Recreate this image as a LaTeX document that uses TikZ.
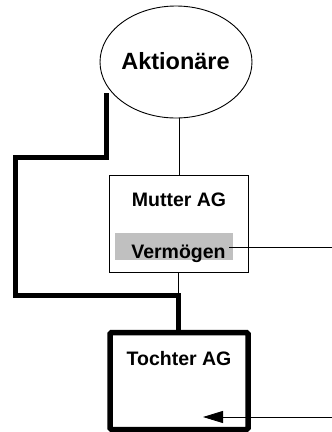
\documentclass[tikz,border=0pt]{standalone}
\usepackage{fontspec}
\setmainfont{Liberation Sans}
\usetikzlibrary{arrows.meta,shapes.geometric}
\definecolor{boxgray}{RGB}{192,192,192}
\begin{document}
\begin{tikzpicture}[x=1pt,y=-1pt,
  thinline/.style={draw=black,line width=0.9pt},
  thickline/.style={draw=black,line width=5.5pt,line join=miter},
  bigtxt/.style={font=\fontsize{23.5}{28}\selectfont\bfseries,inner sep=0pt,anchor=base},
  midtxt/.style={font=\fontsize{19.5}{24}\selectfont\bfseries,inner sep=0pt,anchor=base}]
\useasboundingbox (0,0) rectangle (332,432);
% shapes
\node[ellipse,thinline,minimum width=152pt,minimum height=112pt,inner sep=0pt] (akt) at (176,62) {};
\node[bigtxt] (akttxt) at (175.5,69) {Aktionäre};
\node[rectangle,thinline,minimum width=139pt,minimum height=97pt,inner sep=0pt] (mutter) at (179,223.5) {};
\node[midtxt] (muttertxt) at (179,206) {Mutter AG};
\node[rectangle,fill=boxgray,minimum width=117.5pt,minimum height=27pt,inner sep=0pt] (verm) at (173.8,246.5) {};
\node[midtxt] (vermtxt) at (178.5,258) {Vermögen};
\node[rectangle,draw=black,line width=5.5pt,rounded corners=1.5pt,minimum width=138pt,minimum height=97pt,inner sep=0pt] (tochter) at (179,381) {};
\node[midtxt] (tochtertxt) at (179,365) {Tochter AG};
% coordinates
\coordinate (aktbot) at (179,118);
\coordinate (vermend) at (229,247);
\coordinate (vermright) at (332,247);
\coordinate (tk1) at (106.5,93);
\coordinate (tk2) at (106.5,157.5);
\coordinate (tk3) at (15.5,157.5);
\coordinate (tk4) at (15.5,295.5);
\coordinate (tk5) at (178.5,295.5);
\coordinate (tk6) at (178.5,330);
\coordinate (arrstart) at (332,417);
\coordinate (arrtip) at (203,417);
% connectors
\draw[thinline] (aktbot) -- (mutter.north -| aktbot);
\draw[thinline] (mutter.south -| tk5) -- (tk5);
\draw[thinline] (vermend) -- (vermright);
\draw[thickline] (tk1) -- (tk2) -- (tk3) -- (tk4) -- (tk5) -- (tk6);
\draw[thinline,-{Triangle[length=20pt,width=12pt]}] (arrstart) -- (arrtip);
\end{tikzpicture}
\end{document}
